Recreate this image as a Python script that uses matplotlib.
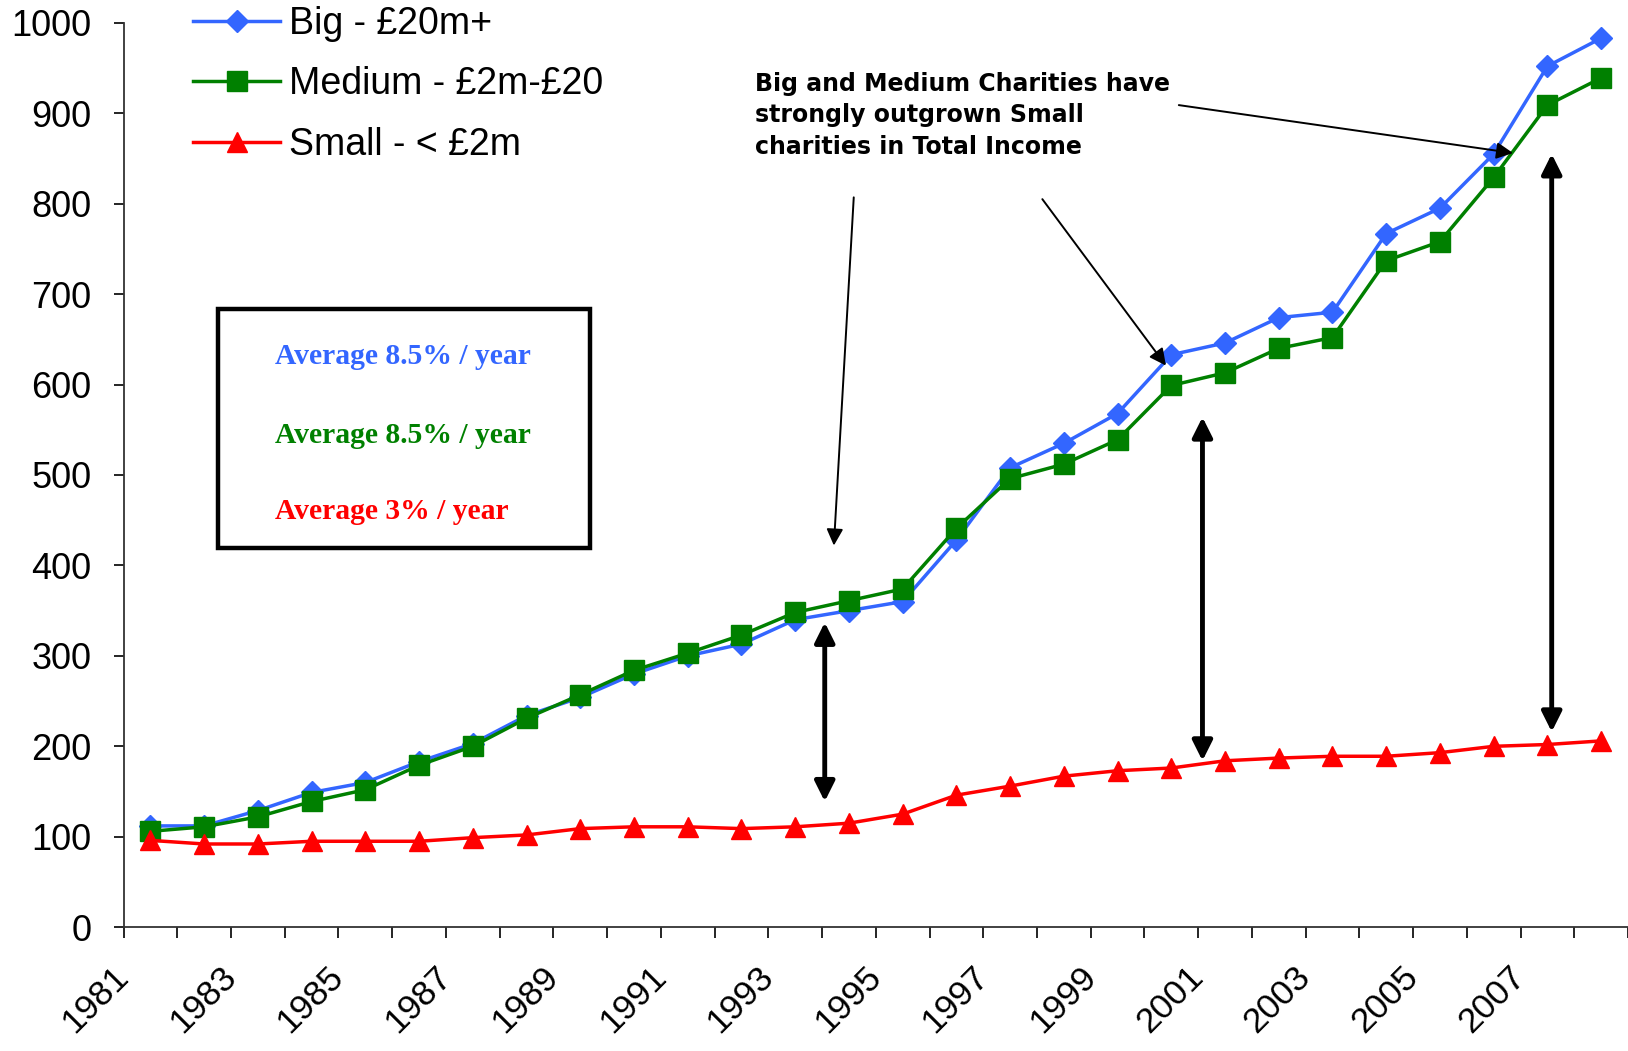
import matplotlib.pyplot as plt
from matplotlib.patches import Rectangle

# -------------------------------
# Dados (leitura aproximada do gráfico)
# -------------------------------
anos = list(range(1981, 2009))

big = [112, 112, 129, 149, 160, 183, 203, 234, 254, 280, 300, 313, 340, 350, 360,
       428, 508, 535, 568, 633, 646, 674, 680, 767, 795, 855, 952, 983]
medium = [106, 111, 122, 139, 152, 179, 200, 231, 257, 284, 303, 323, 348, 361, 374,
          441, 496, 512, 539, 599, 613, 640, 652, 737, 758, 829, 909, 939]
small = [96, 92, 92, 95, 95, 95, 99, 102, 109, 111, 111, 109, 111, 115, 125,
         146, 156, 167, 173, 176, 184, 187, 189, 189, 193, 200, 202, 206]

nomes = ['Big - £20m+', 'Medium - £2m-£20', 'Small - < £2m']
cores = ['#3366FF', '#008000', '#FF0000']
textos_media = ['Average 8.5% / year', 'Average 8.5% / year', 'Average 3% / year']

# -------------------------------
# Figura
# -------------------------------
plt.rcParams['font.family'] = ['Liberation Sans', 'DejaVu Sans']

fig = plt.figure(figsize=(16.28, 10.51), dpi=100)
ax = fig.add_axes([0.0759, 0.1178, 0.9241, 0.8605])

x = [i + 0.5 for i in range(len(anos))]

ax.plot(x, big, color=cores[0], lw=2.5, marker='D', ms=11, mec=cores[0], label=nomes[0], clip_on=False)
ax.plot(x, medium, color=cores[1], lw=2.5, marker='s', ms=14, mec=cores[1], label=nomes[1], clip_on=False)
ax.plot(x, small, color=cores[2], lw=2.5, marker='^', ms=15, mec=cores[2], label=nomes[2], clip_on=False)

ax.set_xlim(0, len(anos))
ax.set_ylim(0, 1000)
ax.set_yticks(range(0, 1001, 100))

ax.set_xticks(range(len(anos) + 1))
rotulos = [str(a) if i % 2 == 0 else '' for i, a in enumerate(anos)] + ['']
ax.set_xticklabels(rotulos, rotation=45, ha='right', va='center', rotation_mode='anchor')

ax.tick_params(axis='y', labelsize=26, length=7, width=1.2, pad=16, direction='out')
ax.tick_params(axis='x', labelsize=25.5, length=8, width=1.2, pad=24, direction='out')

for lado in ['top', 'right']:
    ax.spines[lado].set_visible(False)
for lado in ['left', 'bottom']:
    ax.spines[lado].set_color('#333333')
    ax.spines[lado].set_linewidth(1.3)

leg = ax.legend(loc='upper left', bbox_to_anchor=(0.105, 1.016), bbox_transform=fig.transFigure,
                frameon=False, fontsize=27, handlelength=2.3, handletextpad=0.25,
                labelspacing=0.66, borderpad=0.1)

# Caixa com médias
ax.add_patch(Rectangle((1.76, 419), 6.92, 264, fill=False, lw=3.2, ec='black', zorder=5))
for txt, cor, yy in zip(textos_media, cores, [631, 544, 460]):
    ax.text(2.82, yy, txt, color=cor, fontsize=21.3, fontweight='bold',
            family='Liberation Serif', va='center', ha='left')

# Texto explicativo
ax.text(11.75, 946, 'Big and Medium Charities have\nstrongly outgrown Small\ncharities in Total Income',
        fontsize=17, fontweight='bold', family='DejaVu Sans', va='top', ha='left',
        linespacing=1.4, transform=ax.transData)

# Setas finas
setas = [((19.64, 909), (25.86, 856)),
         ((13.59, 807), (13.22, 422)),
         ((17.10, 805), (19.40, 621))]
for ini, fim in setas:
    ax.annotate('', xy=fim, xytext=ini,
                arrowprops=dict(arrowstyle='-|>', lw=1.4, color='black', mutation_scale=25,
                                shrinkA=0, shrinkB=0))

# Setas duplas
duplas = [(13.05, 337, 139), (20.08, 564, 184), (26.58, 855, 216)]
for xx, y1, y2 in duplas:
    ax.annotate('', xy=(xx, y1), xytext=(xx, y2),
                arrowprops=dict(arrowstyle='<|-|>', lw=3.5, color='black', mutation_scale=30,
                                shrinkA=0, shrinkB=0))

fig.savefig('out.png', dpi=100)
